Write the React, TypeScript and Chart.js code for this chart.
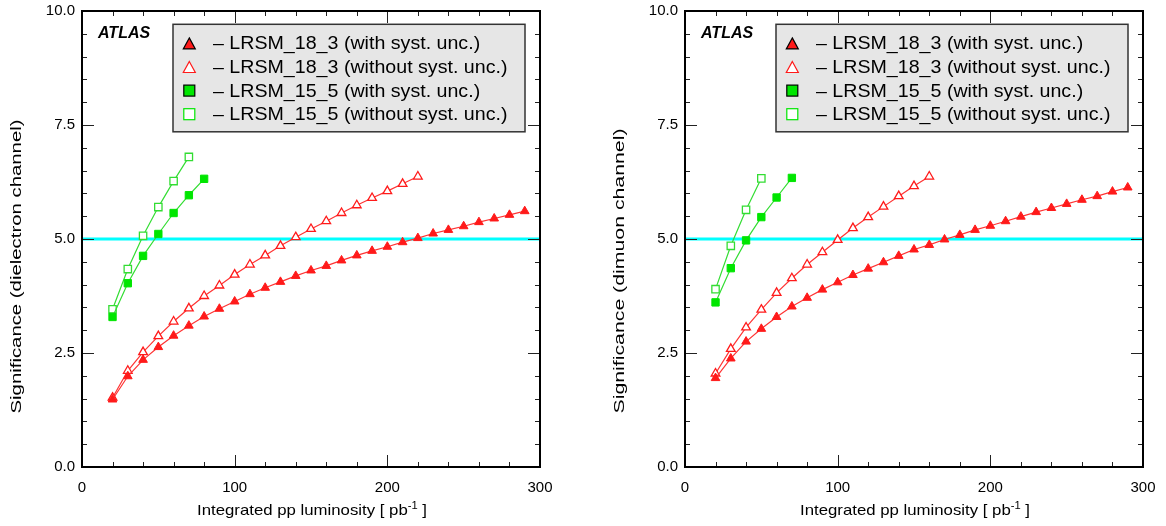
import React, { useEffect, useRef } from "react";
import { Chart, registerables } from "chart.js";

Chart.register(...registerables);

const FONT = "'Liberation Sans', Arial, Helvetica, sans-serif";
Chart.defaults.font.family = FONT;

// ---------- data ----------
const lumiTo290 = [20, 30, 40, 50, 60, 70, 80, 90, 100, 110, 120, 130, 140, 150, 160, 170, 180, 190, 200, 210, 220, 230, 240, 250, 260, 270, 280, 290];
const lumiTo220 = [20, 30, 40, 50, 60, 70, 80, 90, 100, 110, 120, 130, 140, 150, 160, 170, 180, 190, 200, 210, 220];
const lumiTo160 = [20, 30, 40, 50, 60, 70, 80, 90, 100, 110, 120, 130, 140, 150, 160];
const lumiTo80 = [20, 30, 40, 50, 60, 70, 80];
const lumiTo70 = [20, 30, 40, 50, 60, 70];
const lumiTo50 = [20, 30, 40, 50];

// dielectron channel
const ee18With = [1.48, 1.99, 2.35, 2.63, 2.88, 3.10, 3.30, 3.47, 3.63, 3.79, 3.93, 4.06, 4.19, 4.31, 4.41, 4.53, 4.64, 4.74, 4.83, 4.93, 5.02, 5.12, 5.20, 5.28, 5.37, 5.45, 5.53, 5.61];
const ee18Without = [1.52, 2.11, 2.52, 2.87, 3.19, 3.48, 3.75, 3.98, 4.22, 4.44, 4.64, 4.85, 5.04, 5.22, 5.39, 5.57, 5.74, 5.90, 6.05, 6.21, 6.37];
const ee15With = [3.29, 4.03, 4.63, 5.11, 5.57, 5.96, 6.32];
const ee15Without = [3.46, 4.34, 5.07, 5.70, 6.27, 6.80];

// dimuon channel
const mm18With = [1.95, 2.38, 2.75, 3.03, 3.29, 3.52, 3.71, 3.89, 4.05, 4.21, 4.35, 4.49, 4.63, 4.77, 4.87, 4.99, 5.09, 5.20, 5.29, 5.39, 5.49, 5.59, 5.68, 5.77, 5.86, 5.94, 6.04, 6.13];
const mm18Without = [2.05, 2.59, 3.06, 3.45, 3.82, 4.14, 4.44, 4.71, 4.98, 5.24, 5.48, 5.71, 5.94, 6.16, 6.37];
const mm15With = [3.61, 4.36, 4.97, 5.48, 5.91, 6.34];
const mm15Without = [3.90, 4.85, 5.64, 6.33];

const discoveryRange = [0, 300];
const discoveryLevel = 5;

const legendLabels = [
  "\u2013 LRSM_18_3 (with syst. unc.)",
  "\u2013 LRSM_18_3 (without syst. unc.)",
  "\u2013 LRSM_15_5 (with syst. unc.)",
  "\u2013 LRSM_15_5 (without syst. unc.)",
];

const xTicks = [0, 100, 200, 300];
const yTickLabels = ["0.0", "2.5", "5.0", "7.5", "10.0"];

// ---------- styles ----------
const RED = "#ff1a1a";
const RED_LINE = "#ff3333";
const GREEN = "#00e600";
const GREEN_LINE = "#33dd33";
const CYAN = "#00ffff";

const pts = (xs: number[], ys: number[]) => ys.map((y, i) => ({ x: xs[i], y }));

function makeDatasets(
  x18w: number[], y18w: number[],
  x18o: number[], y18o: number[],
  x15w: number[], y15w: number[],
  x15o: number[], y15o: number[]
) {
  return [
    {
      label: legendLabels[0], kind: "triFilled",
      data: pts(x18w, y18w), borderColor: RED_LINE, borderWidth: 1.2,
      pointStyle: "triangle", pointRadius: 5, pointBackgroundColor: RED, pointBorderColor: RED, pointBorderWidth: 1,
    },
    {
      label: legendLabels[1], kind: "triOpen",
      data: pts(x18o, y18o), borderColor: RED_LINE, borderWidth: 1.2,
      pointStyle: "triangle", pointRadius: 5, pointBackgroundColor: "#ffffff", pointBorderColor: RED, pointBorderWidth: 1.3,
    },
    {
      label: legendLabels[2], kind: "sqFilled",
      data: pts(x15w, y15w), borderColor: GREEN_LINE, borderWidth: 1.2,
      pointStyle: "rect", pointRadius: 5.2, pointBackgroundColor: GREEN, pointBorderColor: GREEN, pointBorderWidth: 1,
    },
    {
      label: legendLabels[3], kind: "sqOpen",
      data: pts(x15o, y15o), borderColor: GREEN_LINE, borderWidth: 1.2,
      pointStyle: "rect", pointRadius: 5.2, pointBackgroundColor: "#ffffff", pointBorderColor: GREEN_LINE, pointBorderWidth: 1.3,
    },
    {
      label: "", kind: "none",
      data: discoveryRange.map((x) => ({ x, y: discoveryLevel })),
      borderColor: CYAN, borderWidth: 3, pointRadius: 0, order: 10,
    },
  ];
}

function drawMarker(ctx: CanvasRenderingContext2D, kind: string, cx: number, cy: number) {
  ctx.save();
  ctx.lineWidth = 1.2;
  if (kind === "triFilled" || kind === "triOpen") {
    const w = 12, h = 11;
    ctx.beginPath();
    ctx.moveTo(cx, cy - h / 2);
    ctx.lineTo(cx + w / 2, cy + h / 2);
    ctx.lineTo(cx - w / 2, cy + h / 2);
    ctx.closePath();
    ctx.fillStyle = kind === "triFilled" ? RED : "#ffffff";
    ctx.strokeStyle = kind === "triFilled" ? "#000000" : RED;
    ctx.fill();
    ctx.stroke();
  } else if (kind === "sqFilled" || kind === "sqOpen") {
    const s = 11;
    ctx.fillStyle = kind === "sqFilled" ? GREEN : "#ffffff";
    ctx.strokeStyle = kind === "sqFilled" ? "#000000" : GREEN;
    ctx.fillRect(cx - s / 2, cy - s / 2, s, s);
    ctx.strokeRect(cx - s / 2, cy - s / 2, s, s);
  }
  ctx.restore();
}

const decorPlugin = {
  id: "decor",
  afterDatasetsDraw(chart: any, _args: any, opts: any) {
    const ctx: CanvasRenderingContext2D = chart.ctx;
    const { left, right, top, bottom } = chart.chartArea;
    const xs = chart.scales.x;
    const ys = chart.scales.y;
    ctx.save();

    // inward ticks on all four sides
    ctx.strokeStyle = "#222";
    ctx.lineWidth = 1;
    ctx.beginPath();
    for (let i = 0; i <= 15; i++) {
      const v = i * 20;
      const px = Math.round(xs.getPixelForValue(v)) + 0.5;
      const len = i % 5 === 0 ? 12 : 5;
      ctx.moveTo(px, bottom);
      ctx.lineTo(px, bottom - len);
      ctx.moveTo(px, top);
      ctx.lineTo(px, top + len);
    }
    for (let i = 0; i <= 20; i++) {
      const v = i * 0.5;
      const py = Math.round(ys.getPixelForValue(v)) + 0.5;
      const len = i % 5 === 0 ? 12 : 5;
      ctx.moveTo(left, py);
      ctx.lineTo(left + len, py);
      ctx.moveTo(right, py);
      ctx.lineTo(right - len, py);
    }
    ctx.stroke();

    // frame
    ctx.strokeStyle = "#000";
    ctx.lineWidth = 2;
    ctx.strokeRect(left, top, right - left, bottom - top);

    // ATLAS label
    ctx.fillStyle = "#000";
    ctx.font = `italic bold 16px ${FONT}`;
    ctx.textAlign = "left";
    ctx.textBaseline = "middle";
    ctx.fillText("ATLAS", left + 16, top + 22.5);

    // legend box
    const lx = left + 91, ly = top + 13.3, lw = 352, lh = 107.5;
    ctx.fillStyle = "#e6e6e6";
    ctx.fillRect(lx, ly, lw, lh);
    ctx.strokeStyle = "#333";
    ctx.lineWidth = 1.5;
    ctx.strokeRect(lx, ly, lw, lh);

    const items = chart.data.datasets.filter((d: any) => d.label);
    items.forEach((d: any, i: number) => {
      const cy = top + 32.4 + i * 23.6;
      drawMarker(ctx, d.kind, left + 107.3, cy);
      ctx.save();
      ctx.translate(left + 131, cy + 1);
      ctx.scale(1.09, 1);
      ctx.font = `18px ${FONT}`;
      ctx.fillStyle = "#000";
      ctx.textAlign = "left";
      ctx.textBaseline = "middle";
      ctx.fillText(d.label, 0, 0);
      ctx.restore();
    });

    // y title (rotated, stretched along its length)
    ctx.save();
    ctx.font = `14px ${FONT}`;
    const yt: string = opts.yTitle;
    const ytw = ctx.measureText(yt).width;
    ctx.translate(left - 61, bottom - 53.5);
    ctx.rotate(-Math.PI / 2);
    ctx.scale(opts.yTitleLength / ytw, 1);
    ctx.fillStyle = "#000";
    ctx.textAlign = "left";
    ctx.textBaseline = "alphabetic";
    ctx.fillText(yt, 0, 0);
    ctx.restore();

    // x title with superscript
    ctx.save();
    const main1 = "Integrated pp luminosity [ pb";
    const sup = "-1";
    const main2 = " ]";
    ctx.font = `15px ${FONT}`;
    const w1 = ctx.measureText(main1).width;
    const w3 = ctx.measureText(main2).width;
    ctx.font = `10px ${FONT}`;
    const w2 = ctx.measureText(sup).width;
    const total = w1 + w2 + w3;
    ctx.translate(left + 115, bottom + 48);
    ctx.scale(230 / total, 1);
    ctx.fillStyle = "#000";
    ctx.textAlign = "left";
    ctx.textBaseline = "alphabetic";
    ctx.font = `15px ${FONT}`;
    ctx.fillText(main1, 0, 0);
    ctx.font = `10px ${FONT}`;
    ctx.fillText(sup, w1, -6);
    ctx.font = `15px ${FONT}`;
    ctx.fillText(main2, w1 + w2, 0);
    ctx.restore();

    ctx.restore();
  },
};

type PanelProps = {
  left: number;
  width: number;
  datasets: any[];
  yTitle: string;
  yTitleLength: number;
};

function Panel({ left, width, datasets, yTitle, yTitleLength }: PanelProps) {
  const ref = useRef<HTMLCanvasElement>(null);
  useEffect(() => {
    if (!ref.current) return;
    const chart = new Chart(ref.current, {
      type: "line",
      data: { datasets },
      options: {
        animation: false,
        responsive: false,
        maintainAspectRatio: false,
        layout: { padding: { left: 0, top: 11, right: width - 540, bottom: 0 } },
        plugins: {
          legend: { display: false },
          tooltip: { enabled: false },
          decor: { yTitle, yTitleLength },
        } as any,
        scales: {
          x: {
            type: "linear",
            min: 0,
            max: 300,
            grid: { display: false, drawTicks: false },
            border: { display: false },
            afterBuildTicks: (s: any) => {
              s.ticks = xTicks.map((v) => ({ value: v }));
            },
            ticks: {
              font: { size: 15, family: FONT },
              color: "#000",
              padding: 12,
              maxRotation: 0,
              autoSkip: false,
            },
            afterFit: (s: any) => {
              s.height = 59;
              s.paddingLeft = 0;
              s.paddingRight = 0;
            },
          },
          y: {
            type: "linear",
            min: 0,
            max: 10,
            grid: { display: false, drawTicks: false },
            border: { display: false },
            ticks: {
              stepSize: 2.5,
              callback: (_v: any, i: number) => yTickLabels[i],
              font: { size: 15, family: FONT },
              color: "#000",
              padding: 7,
            },
            afterFit: (s: any) => {
              s.width = 82;
              s.paddingTop = 0;
              s.paddingBottom = 0;
            },
          },
        },
      } as any,
      plugins: [decorPlugin],
    });
    return () => chart.destroy();
  }, []);
  return (
    <canvas
      ref={ref}
      width={width}
      height={526}
      style={{ position: "absolute", left, top: 0, width, height: 526, display: "block" }}
    />
  );
}

export default function App() {
  const eeSets = makeDatasets(lumiTo290, ee18With, lumiTo220, ee18Without, lumiTo80, ee15With, lumiTo70, ee15Without);
  const mmSets = makeDatasets(lumiTo290, mm18With, lumiTo160, mm18Without, lumiTo70, mm15With, lumiTo50, mm15Without);
  return (
    <div style={{ position: "absolute", left: 0, top: 0, width: 1166, height: 526, background: "#fff" }}>
      <Panel left={0} width={603} datasets={eeSets} yTitle="Significance (dielectron channel)" yTitleLength={294} />
      <Panel left={603} width={563} datasets={mmSets} yTitle="Significance (dimuon channel)" yTitleLength={285} />
    </div>
  );
}
